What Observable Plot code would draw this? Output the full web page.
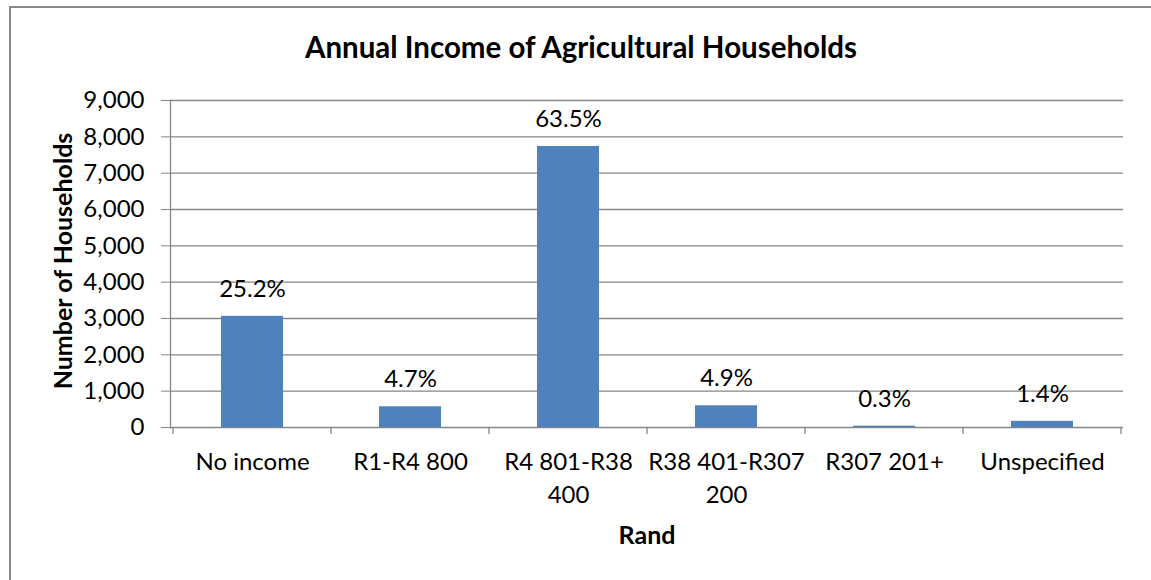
<!DOCTYPE html>
<html><head><meta charset="utf-8">
<script src="https://cdn.jsdelivr.net/npm/d3@7"></script>
<script src="https://cdn.jsdelivr.net/npm/@observablehq/plot@0.6"></script>
<style>
body{margin:0;background:#fff;}
#wrap{position:relative;width:1151px;height:580px;overflow:hidden;}
#border{position:absolute;left:9px;top:6px;width:1200px;height:640px;border:2px solid #878787;box-sizing:border-box;pointer-events:none;}
svg{display:block;}
</style></head><body><div id="wrap"><div id="border"></div></div>
<script>
const categories = ["No income", "R1-R4 800", "R4 801-R38 400", "R38 401-R307 200", "R307 201+", "Unspecified"];
const categoryLabels = ["No income", "R1-R4 800", "R4 801-R38\n400", "R38 401-R307\n200", "R307 201+", "Unspecified"];
const households = [3060, 570, 7735, 597, 37, 170];
const percentLabels = ["25.2%", "4.7%", "63.5%", "4.9%", "0.3%", "1.4%"];
const yTicks = [0, 1000, 2000, 3000, 4000, 5000, 6000, 7000, 8000, 9000];
const chartTitle = "Annual Income of Agricultural Households";
const xTitle = "Rand";
const yTitle = "Number of Households";

const rows = categories.map((c, i) => ({category: c, value: households[i], pct: percentLabels[i]}));
const labelOf = new Map(categories.map((c, i) => [c, categoryLabels[i]]));
const grey = "#868686";

// category boundary ticks (Excel style: between categories)
function boundaryTicks(index, scales, values, dims) {
  const x = scales.x, y = scales.y;
  const step = x(categories[1]) - x(categories[0]);
  const y0 = y(0);
  const g = d3.create("svg:g").attr("stroke", grey).attr("stroke-width", 1.3);
  const xs = categories.map(c => x(c)).concat([x(categories[categories.length - 1]) + step]);
  for (const px of xs) {
    g.append("line").attr("x1", px).attr("x2", px).attr("y1", y0).attr("y2", y0 + 7);
  }
  return g.node();
}

const chart = Plot.plot({
  width: 1151,
  height: 580,
  marginLeft: 170,
  marginRight: 28,
  marginTop: 100,
  marginBottom: 153,
  style: {fontFamily: "Lato, 'Open Sans', sans-serif", fontSize: "24px", color: "#000", background: "transparent"},
  x: {type: "band", domain: categories, padding: 0, label: null},
  y: {domain: [0, 9000], label: null},
  marks: [
    Plot.gridY(yTicks, {stroke: grey, strokeOpacity: 1, strokeWidth: 1.3}),
    Plot.barY(rows, {x: "category", y: "value", fill: "#4F81BD", insetLeft: 48, insetRight: 48}),
    Plot.frame({anchor: "left", stroke: grey, strokeWidth: 1.3}),
    Plot.axisY({ticks: yTicks, tickSize: 9, tickPadding: 17, tickFormat: d3.format(","), stroke: grey, fill: "#000", fontSize: 24, label: null}),
    Plot.axisX({tickSize: 0, tickPadding: 19, tickFormat: d => labelOf.get(d), fontSize: 24, lineHeight: 1.375, fill: "#000", label: null}),
    boundaryTicks,
    Plot.text(rows, {x: "category", y: "value", text: "pct", dy: -27, lineAnchor: "middle", fontSize: 24, fill: "#000"}),
    Plot.text([chartTitle], {frameAnchor: "top", dx: -66, dy: -52, lineAnchor: "middle", fontSize: 29.5, fontWeight: "bold", fill: "#000"}),
    Plot.text([yTitle], {frameAnchor: "left", textAnchor: "middle", rotate: -90, dx: -107, dy: -3, lineAnchor: "middle", fontSize: 25, fontWeight: "bold", fill: "#000"}),
    Plot.text([xTitle], {frameAnchor: "bottom", dy: 108, lineAnchor: "middle", fontSize: 25, fontWeight: "bold", fill: "#000"})
  ]
});
document.getElementById("wrap").prepend(chart);
</script>
</body></html>
